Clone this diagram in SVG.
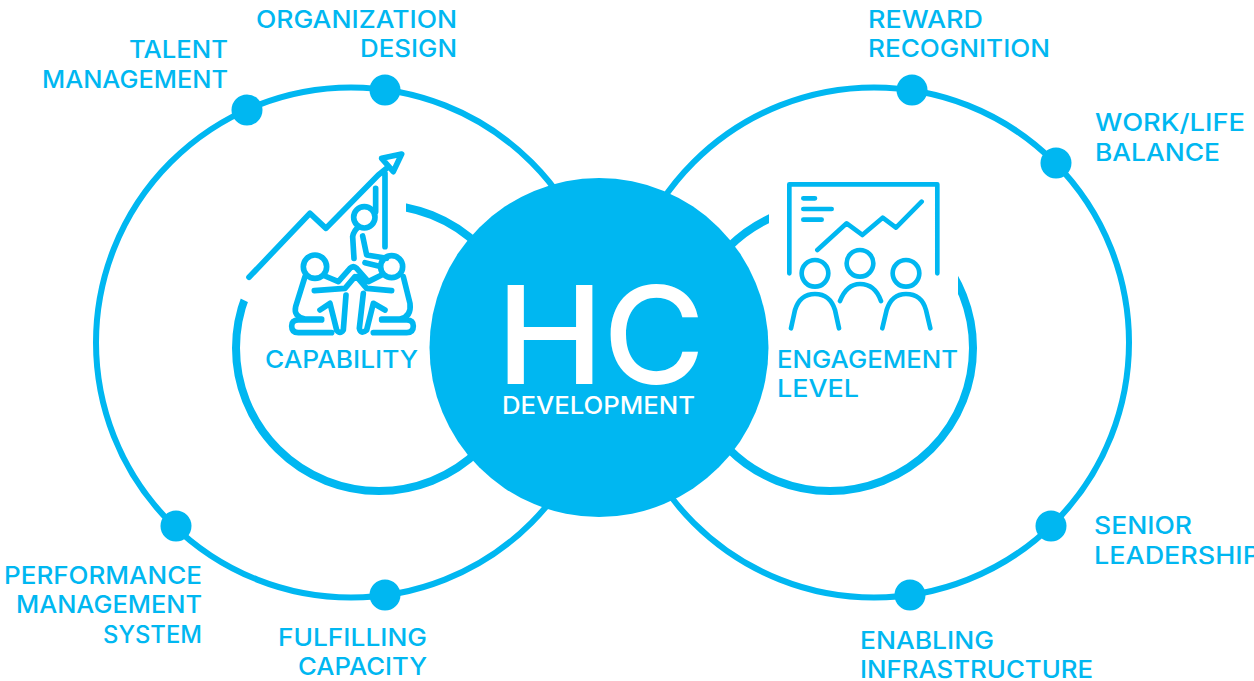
<svg xmlns="http://www.w3.org/2000/svg" width="1254" height="681" viewBox="0 0 1254 681">
<style>
.ring{fill:none;stroke:#00b7f1;stroke-width:6}
.inner{fill:none;stroke:#00b7f1;stroke-width:8}
.dot{fill:#00b7f1}
.mask{fill:#fff}
.ico{fill:none;stroke:#00b7f1;stroke-width:14;stroke-linecap:round;stroke-linejoin:round}
.ico2{stroke-width:17}
text{font-family:"Inter","Liberation Sans",sans-serif;fill:#00b7f1;font-size:24px;font-weight:500}
.w{fill:#fff}
.big{font-size:136px}
</style>
<g id="connectors">
<circle class="ring" cx="351" cy="342.5" r="255"/>
<circle class="ring" cx="874" cy="342.5" r="255"/>
<circle class="inner" cx="379" cy="348" r="143"/>
<circle class="inner" cx="830" cy="348" r="143"/>
<polygon class="mask" points="225,140 406,140 406,320 262,309 225,291"/>
<rect class="mask" x="769" y="172" width="189" height="140"/>
</g>
<g id="hc-development">
<circle cx="599" cy="347.5" r="169.5" fill="#00b7f1"/>
<text class="w big" x="496" y="384" textLength="108" lengthAdjust="spacingAndGlyphs">H</text>
<text class="w big" x="603" y="384" textLength="102" lengthAdjust="spacingAndGlyphs">C</text>
<text class="w" x="502" y="414" textLength="193" lengthAdjust="spacingAndGlyphs">DEVELOPMENT</text>
</g>
<g id="capability">
<g transform="translate(230 140) scale(.3333)">
<path class="ico ico2" d="M57 412L240 220L288 265L445 105L470 85M465 100V320M437 145V215M490 95L515 42L455 55ZM372 355L368 290Q372 270 385 262M398 288L410 345L470 355M405 368L445 378"/>
<circle class="ico ico2" cx="403" cy="232" r="32"/>
<circle class="ico ico2" cx="255" cy="380" r="35"/>
<circle class="ico ico2" cx="485" cy="380" r="33"/>
<path class="ico ico2" d="M225 410L197 500Q190 530 225 537H275M305 578H205Q185 578 185 558Q185 540 205 540H275M285 408L325 425L360 385Q370 375 380 385L415 425L455 405M375 410L345 445L253 452M380 410L410 445L485 452M520 410L540 490Q545 530 510 537H455M430 578H530Q550 578 550 558Q550 540 530 540H455M270 510L300 490L320 570Q330 585 340 570L348 465M400 460L388 565Q392 585 410 570L430 490L465 510"/>
</g>
<text x="265" y="368" textLength="153" lengthAdjust="spacingAndGlyphs">CAPABILITY</text>
</g>
<g id="engagement-level">
<g transform="translate(760 170) scale(.3333)">
<path class="ico" d="M88 310V43H532V310M130 85H165M130 117H215M130 149H185M172 240L260 160L307 195L368 143L408 173L485 95M93 475L105 420Q120 372 165 372Q210 372 225 420L237 475M240 393Q260 342 300 342Q345 342 363 393M367 475L380 420Q395 372 438 372Q485 372 498 420L511 475"/>
<circle class="ico" cx="165" cy="310" r="40"/>
<circle class="ico" cx="300" cy="280" r="40"/>
<circle class="ico" cx="438" cy="310" r="40"/>
</g>
<text x="777" y="368" textLength="181" lengthAdjust="spacingAndGlyphs">ENGAGEMENT</text>
<text x="777" y="397" textLength="82" lengthAdjust="spacingAndGlyphs">LEVEL</text>
</g>
<g id="organization-design"><circle class="dot" cx="385" cy="90" r="15.5"/>
<text x="256" y="28" textLength="201" lengthAdjust="spacingAndGlyphs">ORGANIZATION</text>
<text x="360" y="57" textLength="97" lengthAdjust="spacingAndGlyphs">DESIGN</text></g>
<g id="talent-management"><circle class="dot" cx="247" cy="110" r="15.5"/>
<text x="129" y="58" textLength="99" lengthAdjust="spacingAndGlyphs">TALENT</text>
<text x="42" y="88" textLength="186" lengthAdjust="spacingAndGlyphs">MANAGEMENT</text></g>
<g id="performance-management-system"><circle class="dot" cx="176" cy="526" r="15.5"/>
<text x="4" y="584" textLength="198" lengthAdjust="spacingAndGlyphs">PERFORMANCE</text>
<text x="16" y="613" textLength="186" lengthAdjust="spacingAndGlyphs">MANAGEMENT</text>
<text x="103" y="643" textLength="99" lengthAdjust="spacingAndGlyphs">SYSTEM</text></g>
<g id="fulfilling-capacity"><circle class="dot" cx="385" cy="595" r="15.5"/>
<text x="278" y="646" textLength="149" lengthAdjust="spacingAndGlyphs">FULFILLING</text>
<text x="298" y="675" textLength="129" lengthAdjust="spacingAndGlyphs">CAPACITY</text></g>
<g id="reward-recognition"><circle class="dot" cx="912" cy="90" r="15.5"/>
<text x="868" y="28" textLength="115" lengthAdjust="spacingAndGlyphs">REWARD</text>
<text x="868" y="57" textLength="182" lengthAdjust="spacingAndGlyphs">RECOGNITION</text></g>
<g id="work-life-balance"><circle class="dot" cx="1056" cy="163" r="15.5"/>
<text x="1095" y="131" textLength="150" lengthAdjust="spacingAndGlyphs">WORK/LIFE</text>
<text x="1095" y="161" textLength="125" lengthAdjust="spacingAndGlyphs">BALANCE</text></g>
<g id="senior-leadership"><circle class="dot" cx="1051" cy="526" r="15.5"/>
<text x="1094" y="534" textLength="98" lengthAdjust="spacingAndGlyphs">SENIOR</text>
<text x="1094" y="564" textLength="166" lengthAdjust="spacingAndGlyphs">LEADERSHIP</text></g>
<g id="enabling-infrastructure"><circle class="dot" cx="910" cy="595" r="15.5"/>
<text x="860" y="649" textLength="134" lengthAdjust="spacingAndGlyphs">ENABLING</text>
<text x="860" y="678" textLength="233" lengthAdjust="spacingAndGlyphs">INFRASTRUCTURE</text></g>
</svg>
